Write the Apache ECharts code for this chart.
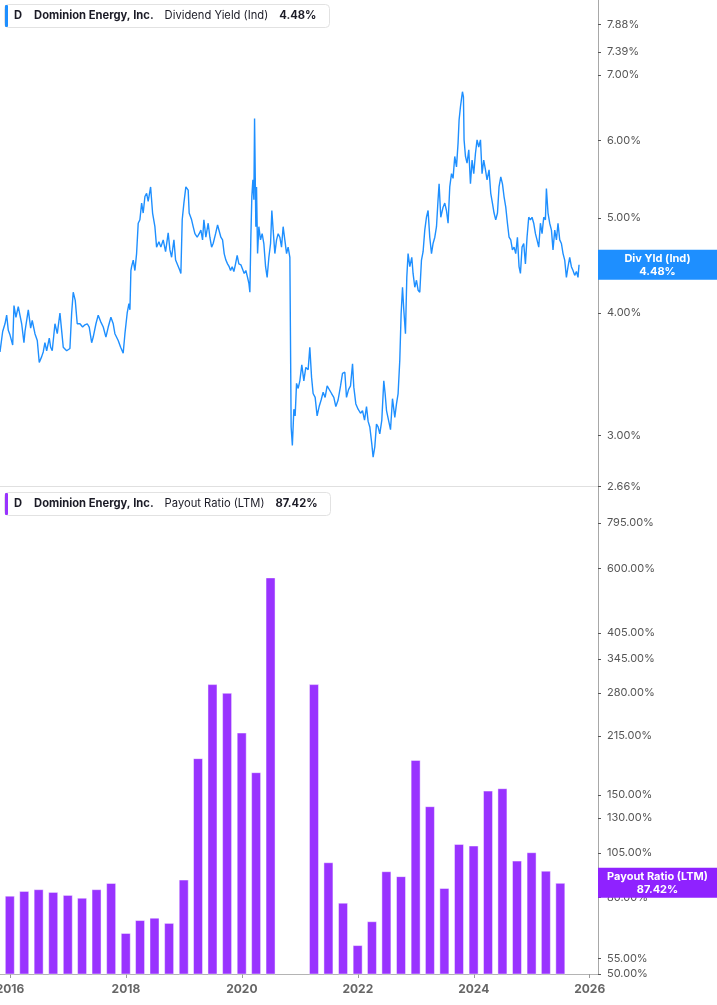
<!DOCTYPE html>
<html>
<head>
<meta charset="utf-8">
<script src="https://cdn.jsdelivr.net/npm/echarts@6/dist/echarts.min.js"></script>
<style>
html,body{margin:0;padding:0;background:#fff;}
#chart{width:717px;height:1005px;}
</style>
</head>
<body>
<div id="chart"></div>
<script>
// ---------- DATA ----------
const ticker = 'D';
const company = 'Dominion Energy, Inc.';
const yieldName = 'Dividend Yield (Ind)';
const yieldShort = 'Div Yld (Ind)';
const yieldLatest = 4.48;
const payoutName = 'Payout Ratio (LTM)';
const payoutLatest = 87.42;

// dividend yield (%) — dates as fractional years
const yieldYears = [
2015.828,2015.874,2015.914,2015.943,2015.971,2016.000,2016.047,2016.069,2016.103,2016.143,
2016.172,2016.202,2016.241,2016.259,2016.316,2016.357,2016.384,2016.431,2016.471,2016.505,
2016.547,2016.574,2016.603,2016.633,2016.678,2016.702,2016.729,2016.776,2016.816,2016.862,
2016.891,2016.919,2016.978,2017.034,2017.064,2017.091,2017.126,2017.160,2017.207,2017.253,
2017.293,2017.333,2017.367,2017.409,2017.436,2017.483,2017.522,2017.564,2017.609,2017.655,
2017.695,2017.741,2017.781,2017.810,2017.867,2017.909,2017.953,2017.983,2018.022,2018.052,
2018.069,
2018.086,2018.098,2018.126,2018.155,2018.184,2018.212,2018.241,2018.271,2018.298,2018.328,
2018.357,2018.384,2018.426,2018.460,2018.500,2018.529,2018.569,2018.603,2018.643,2018.684,
2018.729,2018.759,2018.788,2018.828,2018.857,2018.891,2018.931,2018.948,2018.971,2019.000,
2019.034,2019.057,2019.074,2019.091,2019.116,2019.133,2019.160,2019.190,2019.229,2019.264,
2019.293,2019.322,2019.345,2019.379,2019.419,2019.448,2019.478,2019.505,2019.547,2019.581,
2019.609,2019.638,2019.667,2019.695,2019.724,2019.753,2019.781,2019.805,2019.833,2019.862,
2019.891,2019.919,2019.948,2019.983,2020.012,2020.040,2020.069,2020.098,2020.121,2020.138,
2020.155,2020.172,2020.190,2020.207,2020.219,2020.229,2020.241,2020.253,2020.271,2020.293,
2020.322,2020.350,2020.379,2020.409,2020.436,2020.466,2020.495,2020.517,2020.540,2020.569,
2020.598,2020.626,2020.655,2020.684,2020.712,2020.741,2020.771,2020.798,2020.828,2020.850,
2020.871,2020.897,2020.919,2020.943,2020.971,2021.000,2021.034,2021.069,2021.103,2021.143,
2021.172,2021.202,2021.229,2021.264,2021.298,2021.333,2021.367,2021.402,2021.436,2021.471,
2021.505,2021.547,2021.586,2021.621,2021.660,2021.702,2021.736,2021.776,2021.805,2021.840,
2021.874,2021.909,2021.931,2021.966,2022.005,2022.047,2022.081,2022.116,2022.150,2022.178,
2022.207,2022.241,2022.264,2022.293,2022.322,2022.350,2022.379,2022.414,2022.448,2022.471,
2022.495,2022.529,2022.564,2022.598,2022.638,2022.667,2022.695,2022.724,2022.747,2022.771,
2022.793,2022.822,2022.845,2022.867,2022.897,2022.931,2022.953,2022.983,2023.012,2023.040,
2023.069,2023.098,2023.126,2023.155,2023.184,2023.212,2023.241,2023.271,2023.298,2023.328,
2023.357,2023.384,2023.402,2023.431,2023.471,2023.500,2023.529,2023.557,2023.586,2023.616,
2023.643,2023.672,2023.702,2023.729,2023.747,2023.771,2023.793,2023.805,2023.822,2023.833,
2023.857,2023.884,2023.914,2023.943,2023.971,2024.000,2024.029,2024.057,2024.086,2024.116,
2024.143,2024.172,2024.202,2024.229,2024.264,2024.293,2024.322,2024.350,2024.379,2024.409,
2024.436,2024.466,2024.495,2024.522,2024.552,2024.581,2024.609,2024.638,2024.667,2024.695,
2024.724,2024.753,2024.781,2024.805,2024.833,2024.862,2024.891,2024.919,2024.948,2024.978,
2025.005,2025.034,2025.064,2025.091,2025.121,2025.150,2025.178,2025.207,2025.236,2025.253,
2025.281,2025.310,2025.340,2025.367,2025.397,2025.426,2025.453,2025.483,2025.512,2025.540,
2025.569,2025.598,2025.626,2025.655,2025.684,2025.712,2025.741,2025.771,2025.798,2025.816
];
const yieldValues = [
3.65,3.83,3.90,3.98,3.84,3.80,3.71,4.07,3.96,4.06,
4.06,3.90,3.73,3.83,4.03,3.86,3.93,3.81,3.75,3.56,
3.61,3.65,3.73,3.66,3.77,3.69,3.66,3.90,3.81,4.00,
3.84,3.69,3.66,3.68,4.00,4.20,4.12,3.90,3.90,3.87,
3.89,3.90,3.87,3.73,3.78,3.90,3.98,3.92,3.87,3.78,
3.87,3.96,3.90,3.81,3.75,3.69,3.64,3.81,4.00,4.09,
4.03,
4.42,4.46,4.53,4.42,4.60,4.94,4.98,5.18,5.06,5.26,
5.30,5.20,5.38,5.06,4.90,4.67,4.73,4.67,4.75,4.62,
4.83,4.64,4.56,4.75,4.53,4.55,4.42,4.39,4.98,5.18,
5.38,5.36,5.34,5.06,5.06,4.98,4.90,4.82,4.78,4.82,
4.86,4.75,4.98,4.78,4.94,4.78,4.67,4.71,4.82,4.92,
4.90,4.78,4.75,4.60,4.53,4.49,4.46,4.42,4.46,4.41,
4.49,4.58,4.49,4.48,4.46,4.39,4.42,4.35,4.29,4.20,
4.78,5.26,5.47,5.22,6.32,5.64,4.90,5.38,4.60,4.90,
4.75,4.82,4.71,4.46,4.35,4.56,4.71,5.09,4.86,4.60,
4.75,4.82,4.78,4.67,4.90,4.75,4.60,4.67,4.56,3.06,
2.93,3.19,3.14,3.39,3.35,3.41,3.54,3.41,3.52,3.50,
3.69,3.44,3.31,3.28,3.14,3.21,3.26,3.32,3.28,3.37,
3.36,3.31,3.28,3.21,3.26,3.37,3.47,3.48,3.28,3.34,
3.37,3.55,3.36,3.23,3.19,3.16,3.18,3.11,3.21,3.10,
3.06,2.94,2.85,2.92,3.08,3.06,3.01,3.11,3.41,3.31,
3.18,3.18,3.04,3.27,3.13,3.23,3.31,3.58,3.99,4.25,
4.03,3.81,4.35,4.60,4.46,4.56,4.39,4.25,4.32,4.22,
4.20,4.53,4.62,4.86,5.01,5.09,4.78,4.60,4.71,4.78,
4.90,5.22,5.42,5.01,5.13,5.18,5.09,4.94,5.38,5.55,
5.49,5.78,5.64,5.96,6.30,6.50,6.65,6.73,6.65,6.01,
5.78,5.69,5.87,5.42,5.73,5.55,5.82,6.01,5.91,6.01,
5.55,5.73,5.60,5.47,5.60,5.30,5.18,5.06,4.98,5.06,
5.38,5.51,5.42,5.26,5.13,4.94,4.78,4.75,4.64,4.67,
4.60,4.78,4.46,4.39,4.67,4.71,4.49,4.78,5.01,4.98,
5.01,4.94,4.82,4.75,4.67,4.94,4.82,5.01,4.98,5.36,
5.06,4.94,4.86,4.64,4.86,4.75,4.94,4.75,4.71,4.60,
4.53,4.35,4.46,4.56,4.46,4.42,4.37,4.41,4.35,4.48
];

// payout ratio LTM (%), quarterly
const payoutDates = [
'2015-12-31','2016-03-31','2016-06-30','2016-09-30','2016-12-31','2017-03-31','2017-06-30','2017-09-30',
'2017-12-31','2018-03-31','2018-06-30','2018-09-30','2018-12-31','2019-03-31','2019-06-30','2019-09-30',
'2019-12-31','2020-03-31','2020-06-30','2020-09-30','2020-12-31','2021-03-31','2021-06-30','2021-09-30',
'2021-12-31','2022-03-31','2022-06-30','2022-09-30','2022-12-31','2023-03-31','2023-06-30','2023-09-30',
'2023-12-31','2024-03-31','2024-06-30','2024-09-30','2024-12-31','2025-03-31','2025-06-30'
];
const payoutValues = [
80.8,83.2,84.1,82.7,81.2,79.8,84.1,87.4,
64.3,69.6,70.6,68.4,89.2,187.8,295.7,280.3,
219.7,172.3,568.7,null,null,295.7,99.2,77.4,
59.7,69.1,93.9,91.1,185.8,139.9,84.7,111.0,
109.9,153.9,156.2,100.2,105.5,94.2,87.42
];

// axis ticks
const yearTicks = [2016, 2018, 2020, 2022, 2024, 2026];
const yieldTicks = [2.66, 3.00, 4.00, 5.00, 6.00, 7.00, 7.39, 7.88];
const payoutTicks = [50, 55, 80, 105, 130, 150, 215, 280, 345, 405, 600, 795];
const xStartYear = 2015.828, xEndYear = 2026.143;
const yieldRange = [2.66, 8.35];
const payoutRange = [50, 990];

// ---------- HELPERS ----------
// converts an ISO date to a fractional year (unit conversion only)
function dateToYear(s) {
  const t = Date.parse(s + 'T00:00:00Z');
  const yr = new Date(t).getUTCFullYear();
  const a = Date.UTC(yr, 0, 1), b = Date.UTC(yr + 1, 0, 1);
  return yr + (t - a) / (b - a);
}

const BLUE = '#1e8fff';
const PURPLE = '#9933ff';
const BOX_PURPLE = '#8f22ff';
const FONT = 'Inter';
const TXT = '#1b1b26';
const TFS = 11.2;

function legendTitle(top, color, metric, val) {
  return {
    left: 4, top: top,
    text: '{acc|}{tk|' + ticker + '}{co|' + company + '}{me|' + metric + '}{va|' + val + '}',
    backgroundColor: '#fff', borderColor: '#e2e2e2', borderWidth: 1, borderRadius: 4,
    padding: [1, 13, 1, 1],
    textStyle: {
      rich: {
        acc: { width: 3, height: 22, backgroundColor: color, borderRadius: 1 },
        tk: { fontFamily: FONT, fontWeight: 'bold', fontSize: TFS, color: TXT, padding: [0, 0, 0, 6] },
        co: { fontFamily: FONT, fontWeight: 'bold', fontSize: TFS, color: TXT, padding: [0, 0, 0, 12] },
        me: { fontFamily: FONT, fontWeight: 'normal', fontSize: TFS, color: TXT, padding: [0, 0, 0, 11] },
        va: { fontFamily: FONT, fontWeight: 'bold', fontSize: TFS, color: TXT, padding: [0, 0, 0, 11] }
      }
    }
  };
}

function endLabel(color, name, val) {
  return {
    silent: true,
    symbol: ['none', 'none'],
    lineStyle: { color: 'rgba(0,0,0,0)', width: 1, type: 'solid' },
    data: [{ yAxis: val }],
    label: {
      show: true, position: 'end', distance: 0, opacity: 1,
      formatter: '{a|' + name + '}\n{a|' + val.toFixed(2) + '%}',
      backgroundColor: color, padding: [2, 0, 2, 0],
      rich: { a: { width: 119, align: 'center', color: '#fff', fontWeight: 'bold', fontSize: 11, lineHeight: 13, fontFamily: FONT } }
    },
    emphasis: { disabled: true }
  };
}

const chart = echarts.init(document.getElementById('chart'), null, { renderer: 'canvas' });

const yAxisCommon = {
  position: 'right',
  axisLine: { show: true, lineStyle: { color: '#a8a8a8', width: 1 } },
  splitLine: { show: false }
};

chart.setOption({
  animation: false,
  backgroundColor: '#fff',
  textStyle: { fontFamily: FONT },
  title: [
    legendTitle(4, BLUE, yieldName, yieldLatest.toFixed(2) + '%'),
    legendTitle(492, PURPLE, payoutName, payoutLatest.toFixed(2) + '%')
  ],
  grid: [
    { left: 0, right: 119, top: 0, height: 486.5, outerBoundsMode: 'none', containLabel: false },
    { left: 0, right: 119, top: 487, bottom: 31, outerBoundsMode: 'none', containLabel: false }
  ],
  xAxis: [
    { type: 'value', gridIndex: 0, min: xStartYear, max: xEndYear,
      axisLine: { show: true, onZero: false, lineStyle: { color: '#e0e0e0' } },
      axisTick: { show: false }, axisLabel: { show: false }, splitLine: { show: false } },
    { type: 'value', gridIndex: 1, min: xStartYear, max: xEndYear,
      axisLine: { show: true, onZero: false, lineStyle: { color: '#b4b4b4', width: 1 } },
      axisTick: { show: true, customValues: yearTicks, length: 4, lineStyle: { color: '#9a9a9a' } },
      axisLabel: { customValues: yearTicks, formatter: v => String(Math.round(v)),
        color: '#666', fontWeight: 'bold', fontSize: 12, margin: 9, fontFamily: FONT },
      splitLine: { show: false } }
  ],
  yAxis: [
    Object.assign({ type: 'log', gridIndex: 0, min: yieldRange[0], max: yieldRange[1],
      axisTick: { show: true, customValues: yieldTicks, length: 3, lineStyle: { color: '#555' } },
      axisLabel: { customValues: yieldTicks, formatter: v => Number(v).toFixed(2) + '%', color: '#555', fontSize: 11, margin: 9, fontFamily: FONT }
    }, yAxisCommon),
    Object.assign({ type: 'log', gridIndex: 1, min: payoutRange[0], max: payoutRange[1],
      axisTick: { show: true, customValues: payoutTicks, length: 3, lineStyle: { color: '#555' } },
      axisLabel: { customValues: payoutTicks, formatter: v => Number(v).toFixed(2) + '%', color: '#555', fontSize: 11, margin: 9, fontFamily: FONT }
    }, yAxisCommon)
  ],
  series: [
    { type: 'line', xAxisIndex: 0, yAxisIndex: 0,
      data: yieldYears.map((y, i) => [y, yieldValues[i]]),
      symbol: 'none', showSymbol: false,
      lineStyle: { color: BLUE, width: 1.4 },
      markLine: endLabel(BLUE, yieldShort, yieldLatest) },
    { type: 'bar', xAxisIndex: 1, yAxisIndex: 1,
      data: payoutDates.map((d, i) => [dateToYear(d), payoutValues[i]]),
      barWidth: 10,
      itemStyle: { color: PURPLE, borderColor: 'rgba(255,255,255,0.45)', borderWidth: 1 },
      markLine: endLabel(BOX_PURPLE, payoutName, payoutLatest) }
  ]
});
</script>
</body>
</html>
